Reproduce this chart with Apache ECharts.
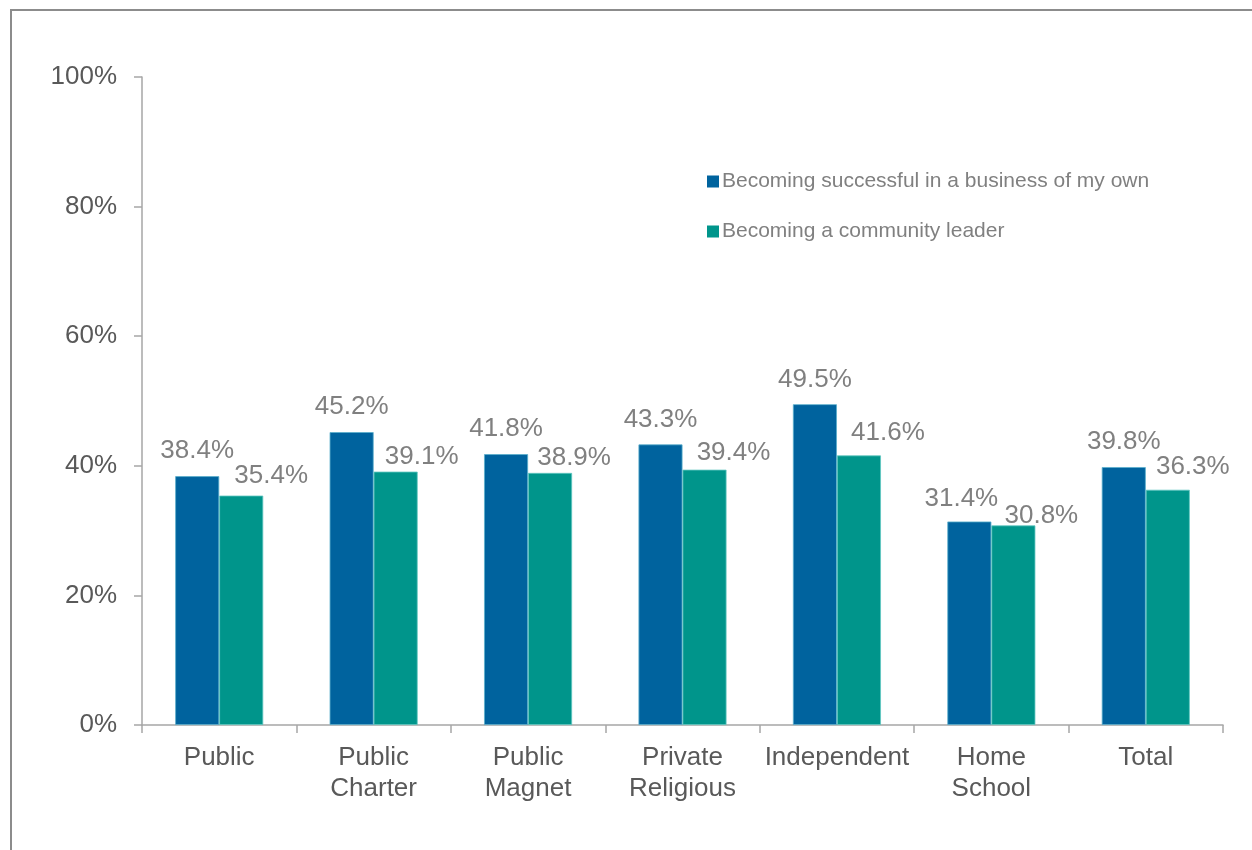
<!DOCTYPE html>
<html>
<head>
<meta charset="utf-8">
<script src="https://cdn.jsdelivr.net/npm/echarts@6/dist/echarts.min.js"></script>
<style>
  html, body { margin: 0; padding: 0; background: #ffffff; }
  #chart { width: 1252px; height: 850px; }
</style>
</head>
<body>
<div id="chart"></div>
<script>
// School types on the x axis
const categories = ['Public', 'Public\nCharter', 'Public\nMagnet', 'Private\nReligious', 'Independent', 'Home\nSchool', 'Total'];

// Share of students naming each goal (%)
const businessOwn = [38.4, 45.2, 41.8, 43.3, 49.5, 31.4, 39.8];
const communityLeader = [35.4, 39.1, 38.9, 39.4, 41.6, 30.8, 36.3];

const seriesNames = ['Becoming successful in a business of my own', 'Becoming a community leader'];

// Hand-placed nudges [dx, dy] for the value labels so neighbours don't collide
const businessLabelNudge = [[0, 0], [0, 0], [0, 0], [0, 0], [0, 1], [-8, 2], [0, 0]];
const leaderLabelNudge = [[30, 5], [26, 10], [24, 10], [29, 8], [29, 2], [28, 15], [25, 2]];

const chart = echarts.init(document.getElementById('chart'), null, { renderer: 'canvas' });

const FONT = 'Liberation Sans, Arial, sans-serif';

const labelStyle = {
  show: true,
  position: 'top',
  distance: 12,
  color: '#808080',
  fontSize: 26,
  fontFamily: FONT,
  formatter: p => p.value.toFixed(1) + '%'
};

function withNudges(values, nudges) {
  return values.map((v, i) => ({ value: v, label: { offset: nudges[i] } }));
}

chart.setOption({
  animation: false,
  backgroundColor: '#ffffff',
  graphic: [{
    type: 'rect',
    shape: { x: 11, y: 10, width: 1300, height: 900 },
    style: { fill: 'none', stroke: '#8c8c8c', lineWidth: 2 },
    silent: true
  }],
  grid: { left: 142, right: 29, top: 77, bottom: 125, containLabel: false },
  legend: {
    orient: 'vertical',
    left: 707,
    top: 171,
    padding: 0,
    itemWidth: 12,
    itemHeight: 12,
    itemGap: 29,
    icon: 'rect',
    itemStyle: { borderWidth: 0 },
    textStyle: { color: '#808080', fontSize: 21, fontFamily: FONT, padding: [0, 0, 0, -2] },
    data: seriesNames
  },
  xAxis: {
    type: 'category',
    data: categories,
    axisLine: { lineStyle: { color: '#a6a6a6', width: 1.5 } },
    axisTick: { show: true, length: 8, alignWithLabel: false, lineStyle: { color: '#a6a6a6', width: 1.5 } },
    axisLabel: {
      color: '#595959',
      fontSize: 26,
      lineHeight: 31,
      margin: 17,
      interval: 0,
      fontFamily: FONT
    }
  },
  yAxis: {
    type: 'value',
    min: 0,
    max: 100,
    interval: 20,
    splitLine: { show: false },
    axisLine: { show: true, lineStyle: { color: '#a6a6a6', width: 1.5 } },
    axisTick: { show: true, length: 8, lineStyle: { color: '#a6a6a6', width: 1.5 } },
    axisLabel: {
      color: '#595959',
      fontSize: 26,
      margin: 25,
      fontFamily: FONT,
      formatter: v => v + '%'
    }
  },
  series: [
    {
      name: seriesNames[0],
      type: 'bar',
      data: withNudges(businessOwn, businessLabelNudge),
      barGap: '0%',
      barCategoryGap: '43%',
      itemStyle: { color: '#00639e', borderColor: '#5aaecb', borderWidth: 0.8 },
      label: labelStyle
    },
    {
      name: seriesNames[1],
      type: 'bar',
      data: withNudges(communityLeader, leaderLabelNudge),
      barGap: '0%',
      barCategoryGap: '43%',
      itemStyle: { color: '#00958b', borderColor: '#5fc6c0', borderWidth: 0.8 },
      label: labelStyle
    }
  ]
});
</script>
</body>
</html>
